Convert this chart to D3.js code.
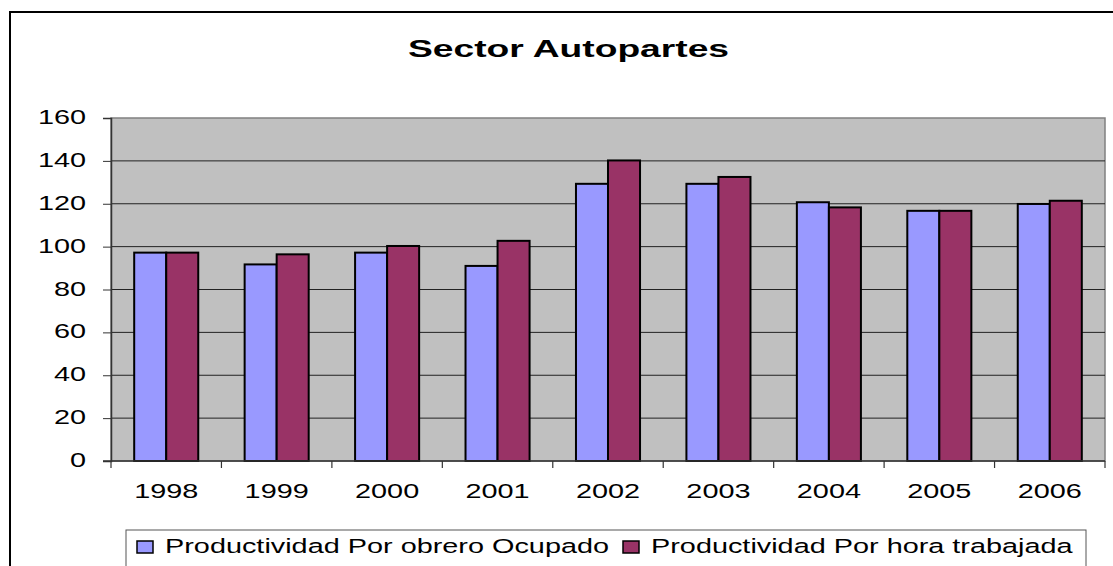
<!DOCTYPE html>
<html>
<head>
<meta charset="utf-8">
<script src="https://cdn.jsdelivr.net/npm/d3@7"></script>
<style>
  html, body { margin: 0; padding: 0; background: #fff; }
  svg { display: block; font-family: "Liberation Sans", Arial, sans-serif; }
</style>
</head>
<body>
<svg id="chart" width="1113" height="566"></svg>
<script>
// Data
const years = ["1998", "1999", "2000", "2001", "2002", "2003", "2004", "2005", "2006"];
const seriesNames = ["Productividad Por obrero Ocupado", "Productividad Por hora trabajada"];
const porObrero = [97.2, 91.7, 97.2, 91, 129.3, 129.3, 120.7, 116.7, 119.9];
const porHora   = [97.2, 96.4, 100.3, 102.7, 140.2, 132.5, 118.3, 116.7, 121.4];
const yTicks = [0, 20, 40, 60, 80, 100, 120, 140, 160];
const title = "Sector Autopartes";

const colors = ["#9999FF", "#993366"];
const sx = 1.48;         // horizontal glyph stretch used for all labels
const titleSx = 1.55;

const svg = d3.select("#chart");

// Outer chart frame
svg.append("rect")
  .attr("x", 10).attr("y", 12)
  .attr("width", 1130).attr("height", 620)
  .attr("fill", "#fff").attr("stroke", "#000").attr("stroke-width", 2);

const plot = { left: 111, top: 118, right: 1105, bottom: 461 };

const x = d3.scaleBand().domain(years).range([plot.left, plot.right]).padding(0);
const bw = x.bandwidth();
const xs = d3.scaleBand().domain([0, 1]).range([bw * 0.21, bw * 0.79]).padding(0);
const y = d3.scaleLinear().domain([0, 160]).range([plot.bottom, plot.top]);

// Plot area background
svg.append("rect")
  .attr("x", plot.left).attr("y", plot.top)
  .attr("width", plot.right - plot.left).attr("height", plot.bottom - plot.top)
  .attr("fill", "#C0C0C0").attr("stroke", "#808080").attr("stroke-width", 1.5);

// Gridlines
svg.append("g")
  .selectAll("line")
  .data(yTicks.filter(v => v > 0 && v < 160))
  .join("line")
  .attr("x1", plot.left).attr("x2", plot.right)
  .attr("y1", d => y(d)).attr("y2", d => y(d))
  .attr("stroke", "#222").attr("stroke-width", 1);

// Bars
const rows = years.map((yr, i) => ({ year: yr, values: [porObrero[i], porHora[i]] }));
const groups = svg.append("g").selectAll("g")
  .data(rows).join("g")
  .attr("transform", d => `translate(${x(d.year)},0)`);
groups.selectAll("rect")
  .data(d => d.values.map((v, k) => ({ v, k })))
  .join("rect")
  .attr("x", d => xs(d.k))
  .attr("y", d => y(d.v))
  .attr("width", xs.bandwidth())
  .attr("height", d => y(0) - y(d.v))
  .attr("fill", d => colors[d.k])
  .attr("stroke", "#000").attr("stroke-width", 2);

// Y axis
const yAxis = svg.append("g")
  .attr("transform", `translate(${plot.left},0)`)
  .call(d3.axisLeft(y).tickValues(yTicks).tickSize(8).tickPadding(0));
yAxis.select(".domain").attr("stroke", "#333").attr("stroke-width", 1.5);
yAxis.selectAll(".tick line").attr("stroke", "#333");
yAxis.selectAll(".tick text")
  .attr("font-size", 19.5)
  .attr("fill", "#000")
  .attr("font-family", "Liberation Sans, Arial, sans-serif")
  .attr("transform", `scale(${sx},1)`)
  .attr("x", -25 / sx)
  .attr("dy", null)
  .attr("y", 5.5);

// X axis: line, boundary ticks, centred year labels
const xAxis = svg.append("g")
  .attr("transform", `translate(0,${plot.bottom})`)
  .call(d3.axisBottom(x).tickSize(0).tickPadding(0));
xAxis.select(".domain").remove();
xAxis.selectAll(".tick text")
  .attr("font-size", 19.5)
  .attr("fill", "#000")
  .attr("font-family", "Liberation Sans, Arial, sans-serif")
  .attr("dy", null)
  .attr("y", 37)
  .attr("transform", `scale(${sx},1)`)
  .attr("x", 0)
  .attr("text-anchor", "middle");
svg.append("line")
  .attr("x1", plot.left - 8).attr("x2", plot.right)
  .attr("y1", plot.bottom).attr("y2", plot.bottom)
  .attr("stroke", "#333").attr("stroke-width", 1.5);
svg.append("g").selectAll("line")
  .data(years.map(d => x(d)).concat([plot.right]))
  .join("line")
  .attr("x1", d => d).attr("x2", d => d)
  .attr("y1", plot.bottom).attr("y2", plot.bottom + 7)
  .attr("stroke", "#333").attr("stroke-width", 1.2);

// Title
svg.append("g")
  .attr("transform", `translate(568.5,57) scale(${titleSx},1)`)
  .append("text")
  .attr("text-anchor", "middle")
  .attr("font-size", 24).attr("font-weight", "bold")
  .text(title);

// Legend
const legend = svg.append("g");
legend.append("rect")
  .attr("x", 126).attr("y", 530)
  .attr("width", 960).attr("height", 80)
  .attr("fill", "#fff").attr("stroke", "#555").attr("stroke-width", 1);
const legendX = [137, 623];
seriesNames.forEach((name, k) => {
  legend.append("rect")
    .attr("x", legendX[k]).attr("y", 541)
    .attr("width", 16).attr("height", 12)
    .attr("fill", colors[k]).attr("stroke", "#000").attr("stroke-width", 1.5);
  legend.append("g")
    .attr("transform", `translate(${legendX[k] + 28},553) scale(${sx},1)`)
    .append("text")
    .attr("font-size", 19.5)
    .text(name);
});
</script>
</body>
</html>
